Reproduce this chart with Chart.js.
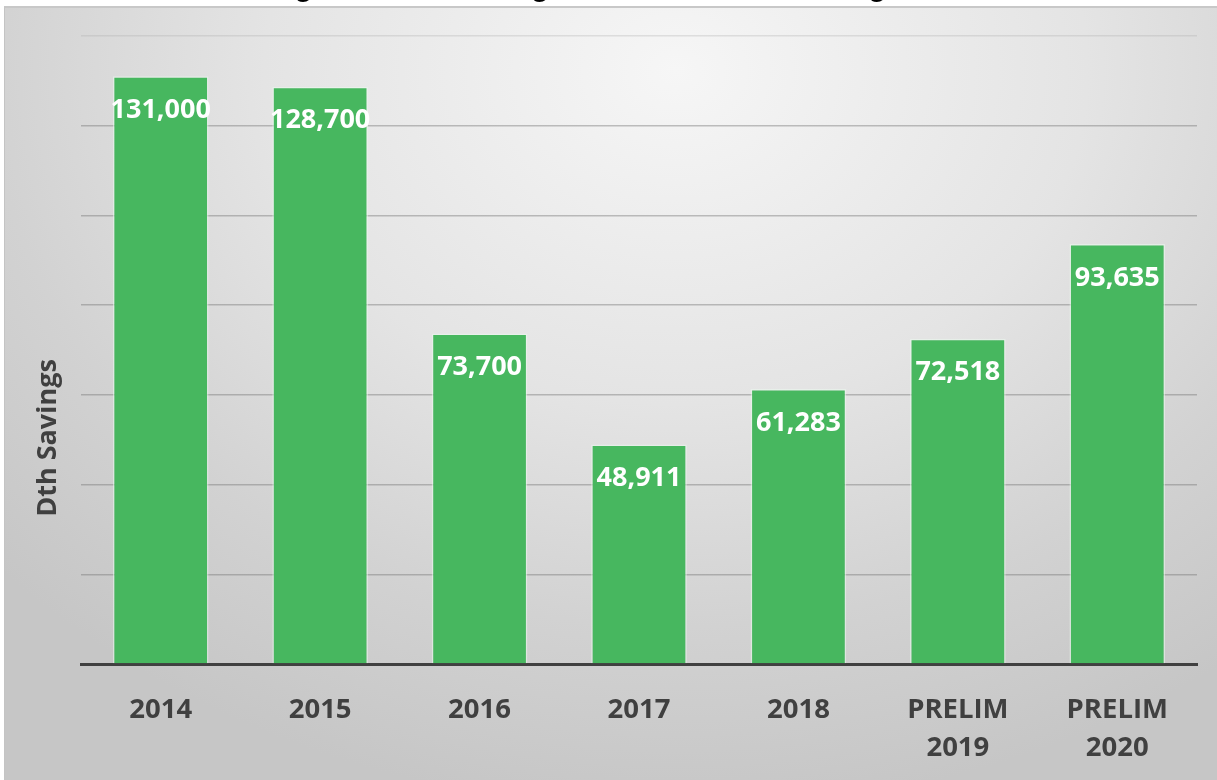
<!DOCTYPE html>
<html>
<head>
<meta charset="utf-8">
<script src="https://cdn.jsdelivr.net/npm/chart.js@4"></script>
<style>
  html, body { margin: 0; padding: 0; background: #ffffff; overflow: hidden; }
  body { width: 1217px; height: 780px; position: relative; }
  #frame {
    position: absolute; left: 4px; top: 6px; width: 1220px; height: 780px;
    border-left: 1px solid #c4c4c4; border-top: 2px solid #c8c8c8;
    background: radial-gradient(ellipse 75% 95% at 55% 8%, #f6f6f6 0%, #e4e4e4 45%, #d2d2d2 75%, #c6c6c6 100%);
  }
  #c { position: absolute; left: 0; top: -40px; }
</style>
</head>
<body>
<div id="frame"></div>
<canvas id="c" width="1217" height="820"></canvas>
<script>
const chartTitle = "Figure 3-6: Washington Natural Gas EE Targets";
const yAxisTitle = "Dth Savings";
const categories = [["2014"], ["2015"], ["2016"], ["2017"], ["2018"], ["PRELIM", "2019"], ["PRELIM", "2020"]];
const savings = [131000, 128700, 73700, 48911, 61283, 72518, 93635];
const yMin = 0;
const yMax = 140000;
const yStep = 20000;

const FONT = "'Open Sans', 'Noto Sans', sans-serif";

const valueLabels = {
  id: 'valueLabels',
  afterDatasetsDraw(chart) {
    const ctx = chart.ctx;
    const meta = chart.getDatasetMeta(0);
    ctx.save();
    ctx.font = "bold 27px " + FONT;
    ctx.fillStyle = "#ffffff";
    ctx.textAlign = "center";
    ctx.textBaseline = "middle";
    meta.data.forEach((bar, i) => {
      ctx.fillText(savings[i].toLocaleString('en-US'), bar.x, bar.y + 34);
    });
    ctx.restore();
  }
};

const yTitle = {
  id: 'yTitle',
  afterDraw(chart) {
    const ctx = chart.ctx;
    const a = chart.chartArea;
    ctx.save();
    ctx.translate(a.left - 33, a.top + 402);
    ctx.rotate(-Math.PI / 2);
    ctx.font = "bold 27px " + FONT;
    ctx.fillStyle = "#404040";
    ctx.textAlign = "center";
    ctx.textBaseline = "middle";
    ctx.fillText(yAxisTitle, 0, 0);
    ctx.restore();
  }
};

new Chart(document.getElementById('c'), {
  type: 'bar',
  data: {
    labels: categories,
    datasets: [{
      data: savings,
      backgroundColor: '#47b75f',
      borderColor: 'rgba(235,250,238,0.55)',
      borderWidth: 1.5,
      borderSkipped: 'start',
      categoryPercentage: 1.0,
      barPercentage: 0.6
    }]
  },
  options: {
    responsive: false,
    animation: false,
    layout: { padding: { left: 0, right: 20, top: 0, bottom: 0 } },
    plugins: {
      legend: { display: false },
      tooltip: { enabled: false },
      title: {
        display: true,
        text: chartTitle,
        color: '#000000',
        font: { family: "'Liberation Sans', Arial, sans-serif", size: 29.5, weight: 'bold', lineHeight: 1.2 },
        padding: { top: 10, bottom: 30.6 }
      }
    },
    scales: {
      x: {
        grid: { display: false, drawTicks: false },
        border: { display: true, color: '#404040', width: 3 },
        ticks: {
          color: '#404040',
          padding: 27,
          maxRotation: 0,
          autoSkip: false,
          font: { family: FONT, size: 27.5, weight: 'bold', lineHeight: 1.38 }
        },
        afterFit(scale) { scale.height = 116; }
      },
      y: {
        min: yMin,
        max: yMax,
        ticks: { display: false, stepSize: yStep },
        border: { display: false },
        grid: {
          drawTicks: false,
          lineWidth: 1.5,
          color(ctx) {
            if (ctx.index === 0) return 'rgba(0,0,0,0)';
            if (ctx.tick && ctx.tick.value === yMax) return 'rgba(170,170,170,0.3)';
            return 'rgba(120,120,120,0.45)';
          }
        },
        afterFit(scale) { scale.width = 81; }
      }
    }
  },
  plugins: [valueLabels, yTitle]
});
</script>
</body>
</html>
